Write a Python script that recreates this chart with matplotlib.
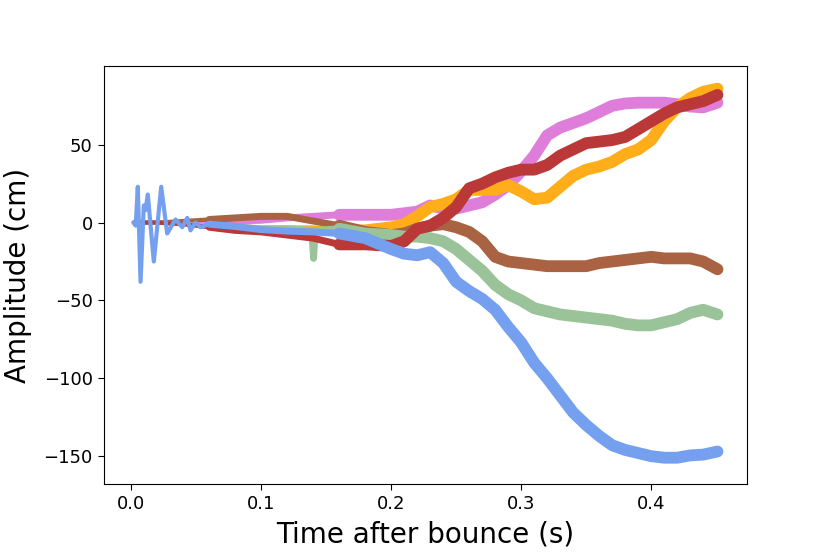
import numpy as np
import matplotlib
matplotlib.use("Agg")
import matplotlib.pyplot as plt
from matplotlib.colors import to_rgb

# ---------------- data ----------------
t_grid = [0.002, 0.02, 0.04, 0.06, 0.08, 0.10, 0.12, 0.14, 0.16, 0.18,
          0.20, 0.21, 0.22, 0.23, 0.24, 0.25, 0.26, 0.27, 0.28, 0.29,
          0.30, 0.31, 0.32, 0.33, 0.34, 0.35, 0.36, 0.37, 0.38, 0.39,
          0.40, 0.41, 0.42, 0.43, 0.44, 0.451]

pink = [0, 0, 0, 0.5, 1, 1.5, 3, 4, 5, 5,
        5, 6, 7, 11, 9, 9, 11, 13, 18, 24,
        33, 43, 56, 61, 64, 67, 71, 75, 76.5, 77,
        77, 77, 76, 74.5, 74, 77]

orange = [0, 0, -1, -2, -3, -4, -4, -4, -5, -5,
          -3, -1, 4, 10, 12, 15, 21, 21, 21, 24,
          20, 15, 16, 23, 30, 34, 36, 39, 44, 47,
          53, 65, 74, 80, 84, 86]

brown = [0, 0, 1, 2, 3, 4, 4, 1, -2, -6,
         -8, -7, -4, -2, -1, -3, -6, -12, -22, -25,
         -26, -27, -28, -28, -28, -28, -26, -25, -24, -23,
         -22, -23, -23, -23, -25, -30]

t_green = [0.002, 0.02, 0.04, 0.06, 0.08, 0.10, 0.12, 0.139, 0.1403, 0.1415,
           0.16, 0.18, 0.20, 0.21, 0.22, 0.23, 0.24, 0.25, 0.26, 0.27,
           0.28, 0.29, 0.30, 0.31, 0.32, 0.33, 0.34, 0.35, 0.36, 0.37,
           0.38, 0.39, 0.40, 0.41, 0.42, 0.43, 0.44, 0.451]
green = [0, 0, -1, -2, -3, -4, -4, -5, -23, -5,
         -4, -7, -8, -9, -9, -10, -12, -17, -24, -31,
         -40, -46, -50, -55, -57, -59, -60, -61, -62, -63,
         -65, -66, -66, -64, -62, -58, -56, -59]

red = [0, 0, -1, -3, -5, -6, -8, -10, -14, -14,
       -15, -12, -4, -2, 3, 10, 22, 25, 29, 32,
       34, 34, 37, 43, 47, 51, 52, 53, 55, 60,
       65, 70, 74, 76, 78, 82]

t_blue = [0.002, 0.0035, 0.0051, 0.0072, 0.0097, 0.011, 0.0128, 0.0174,
          0.0231, 0.0277, 0.0341, 0.0393, 0.0431, 0.0456, 0.0495, 0.0533,
          0.06, 0.08, 0.10, 0.12, 0.14, 0.16, 0.18, 0.20, 0.21, 0.22,
          0.23, 0.24, 0.25, 0.26, 0.27, 0.28, 0.29, 0.30, 0.31, 0.32,
          0.33, 0.34, 0.35, 0.36, 0.37, 0.38, 0.39, 0.40, 0.41, 0.42,
          0.43, 0.44, 0.451]
blue = [0, -2, 23, -38, 11, 8, 18, -25,
        23, -7, 2, -3, 3, -5, 0, -3,
        -1, -2.5, -4.5, -5.5, -6, -7, -10, -17, -20, -21,
        -19, -26, -38, -44, -49, -56, -67, -77, -90, -100,
        -111, -122, -130, -137, -143, -146, -148, -150, -151, -151,
        -149.5, -149, -147]

series = [
    (t_grid, pink, "orchid"),
    (t_grid, orange, "orange"),
    (t_grid, brown, "sienna"),
    (t_green, green, "darkseagreen"),
    (t_grid, red, "firebrick"),
    (t_blue, blue, "cornflowerblue"),
]

x_ticks = [0.0, 0.1, 0.2, 0.3, 0.4]
y_ticks = [-150, -100, -50, 0, 50]


def soften(c, a=0.9):
    r = np.array(to_rgb(c))
    return tuple(a * r + (1 - a) * np.ones(3))


fig = plt.figure(figsize=(8.3, 5.54), dpi=100)
ax = fig.add_axes([0.125, 0.126, 0.775, 0.755])

for tt, vv, col in series:
    tt = np.asarray(tt)
    vv = np.asarray(vv, dtype=float)
    c = soften(col)
    kw = dict(color=c, solid_capstyle="round", solid_joinstyle="round")
    ax.plot(tt, vv, lw=3.0, **kw)
    m1 = tt >= 0.06
    ax.plot(tt[m1], vv[m1], lw=5.0, **kw)
    m2 = tt >= 0.16
    ax.plot(tt[m2], vv[m2], lw=8.5, **kw)

ax.set_xlim(-0.0211, 0.4737)
ax.set_ylim(-168.0, 100.6)
ax.set_xticks(x_ticks)
ax.set_yticks(y_ticks)
ax.set_xticklabels([f"{v:.1f}" for v in x_ticks])
ax.set_yticklabels([f"\u2212{abs(v)}" if v < 0 else f"{v}" for v in y_ticks])
ax.tick_params(labelsize=13, length=4.5)
ax.set_xlabel("Time after bounce (s)", fontsize=20, labelpad=5)
ax.set_ylabel("Amplitude (cm)", fontsize=20, labelpad=8)

fig.savefig("out.png", dpi=100)
